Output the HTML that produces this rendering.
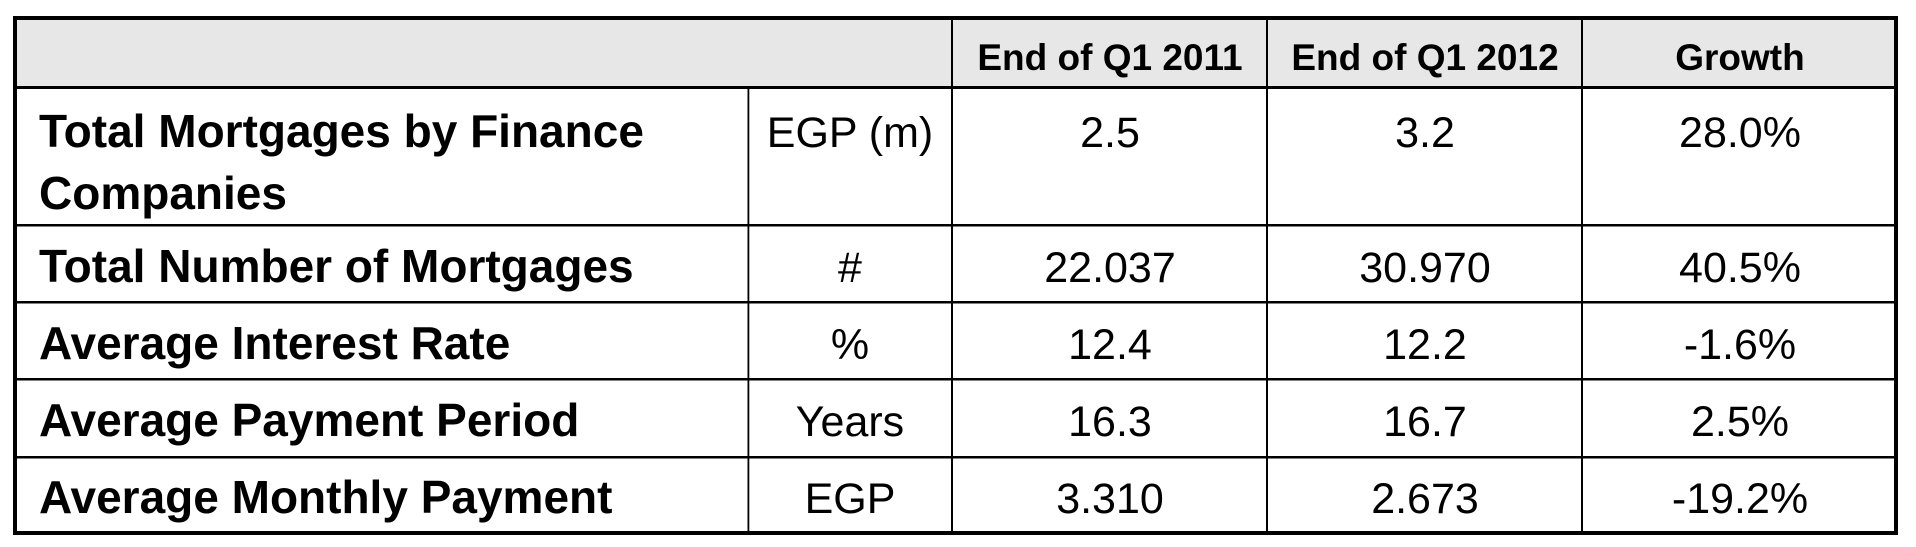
<!DOCTYPE html>
<html>
<head>
<meta charset="utf-8">
<style>
  html, body { margin:0; padding:0; background:#ffffff; }
  body { width:1916px; height:547px; overflow:hidden; }
  svg { display:block; }
  .b { font-family:"Liberation Sans", Arial, sans-serif; font-weight:bold; font-size:46px; fill:#000; }
  .h { font-family:"Liberation Sans", Arial, sans-serif; font-weight:bold; font-size:37px; fill:#000; text-anchor:middle; }
  .r { font-family:"Liberation Sans", Arial, sans-serif; font-weight:normal; font-size:43px; fill:#000; text-anchor:middle; }
</style>
</head>
<body>
<svg width="1916" height="547" viewBox="0 0 1916 547" xmlns="http://www.w3.org/2000/svg">
  <rect x="0" y="0" width="1916" height="547" fill="#ffffff"/>
  <!-- header fill -->
  <rect x="17" y="20" width="1877" height="66" fill="#e7e7e7"/>

  <!-- horizontal inner lines -->
  <rect x="17" y="86" width="1877" height="3" fill="#000"/>
  <rect x="17" y="224" width="1877" height="2.5" fill="#000"/>
  <rect x="17" y="301" width="1877" height="2.5" fill="#000"/>
  <rect x="17" y="378" width="1877" height="2.5" fill="#000"/>
  <rect x="17" y="456" width="1877" height="2.5" fill="#000"/>

  <!-- vertical inner lines -->
  <rect x="747.5" y="88" width="1.8" height="444" fill="#000"/>
  <rect x="951" y="20" width="2" height="512" fill="#000"/>
  <rect x="1266" y="20" width="2" height="512" fill="#000"/>
  <rect x="1581" y="20" width="2" height="512" fill="#000"/>

  <!-- outer border -->
  <rect x="13" y="16" width="1885" height="4" fill="#000"/>
  <rect x="13" y="531" width="1885" height="4" fill="#000"/>
  <rect x="13" y="16" width="4" height="519" fill="#000"/>
  <rect x="1894" y="16" width="4" height="519" fill="#000"/>

  <!-- header -->
  <text class="h" x="1110" y="70">End of Q1 2011</text>
  <text class="h" x="1425" y="70">End of Q1 2012</text>
  <text class="h" x="1740" y="70">Growth</text>

  <!-- row 1 -->
  <text class="b" x="39" y="147">Total Mortgages by Finance</text>
  <text class="b" x="39" y="209">Companies</text>
  <text class="r" x="850" y="147">EGP (m)</text>
  <text class="r" x="1110" y="147">2.5</text>
  <text class="r" x="1425" y="147">3.2</text>
  <text class="r" x="1740" y="147">28.0%</text>

  <!-- row 2 -->
  <text class="b" x="39" y="282">Total Number of Mortgages</text>
  <text class="r" x="850" y="282">#</text>
  <text class="r" x="1110" y="282">22.037</text>
  <text class="r" x="1425" y="282">30.970</text>
  <text class="r" x="1740" y="282">40.5%</text>

  <!-- row 3 -->
  <text class="b" x="39" y="359">Average Interest Rate</text>
  <text class="r" x="850" y="359">%</text>
  <text class="r" x="1110" y="359">12.4</text>
  <text class="r" x="1425" y="359">12.2</text>
  <text class="r" x="1740" y="359">-1.6%</text>

  <!-- row 4 -->
  <text class="b" x="39" y="436">Average Payment Period</text>
  <text class="r" x="850" y="436">Years</text>
  <text class="r" x="1110" y="436">16.3</text>
  <text class="r" x="1425" y="436">16.7</text>
  <text class="r" x="1740" y="436">2.5%</text>

  <!-- row 5 -->
  <text class="b" x="39" y="513">Average Monthly Payment</text>
  <text class="r" x="850" y="513">EGP</text>
  <text class="r" x="1110" y="513">3.310</text>
  <text class="r" x="1425" y="513">2.673</text>
  <text class="r" x="1740" y="513">-19.2%</text>
</svg>
</body>
</html>
